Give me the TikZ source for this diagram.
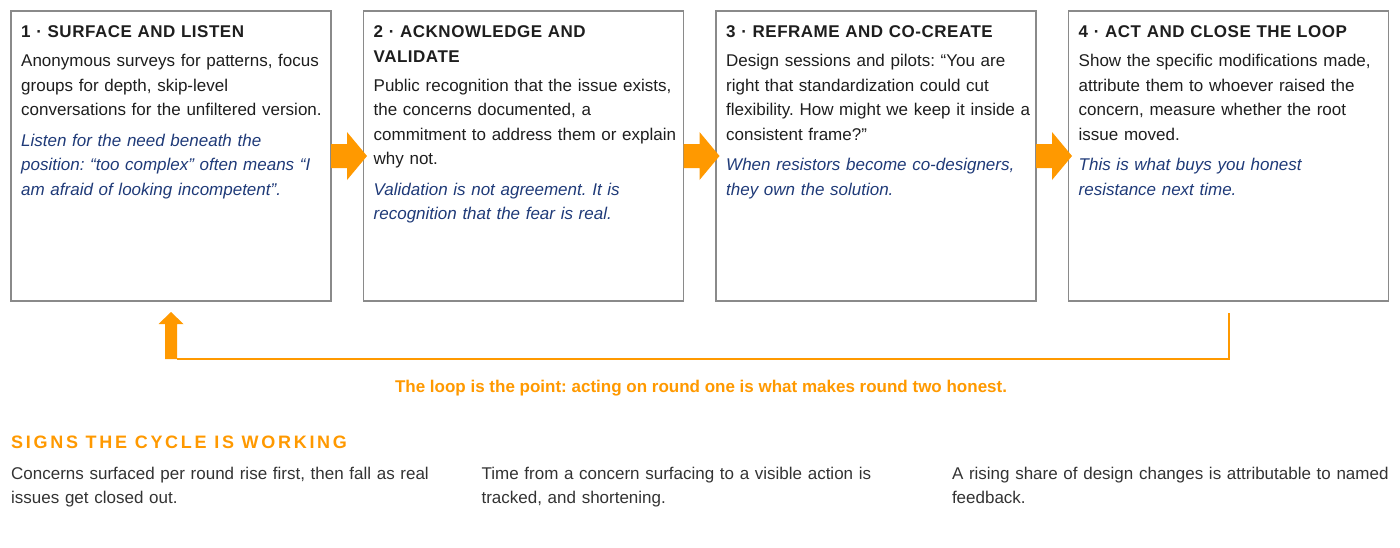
\documentclass[tikz,border=0pt]{standalone}
\usepackage{fontspec}
\setmainfont{Liberation Sans}
\usetikzlibrary{positioning}
\definecolor{accent}{HTML}{FF9900}
\definecolor{notecol}{HTML}{1F3A78}
\definecolor{bodycol}{HTML}{1E1E1E}
\definecolor{signcol}{HTML}{333333}
\definecolor{framecol}{HTML}{8A8A8A}
\frenchspacing
\newcommand\boxtitle[1]{{\bfseries\addfontfeature{LetterSpace=3}#1\par}\vspace{4.5pt}}
\newcommand\boxnote[1]{\par\vspace{6pt}{\color{notecol}\itshape #1\par}}

\tikzset
{
  stepbox/.style={draw=framecol,line width=1.2pt,outer sep=0pt,minimum width=320pt,minimum height=290pt,inner sep=0pt},
  steptext/.style={anchor=north west,inner sep=0pt,text width=320pt,align=left,text=bodycol,font=\fontsize{17}{24.5}\selectfont},
  signtext/.style={anchor=north west,inner sep=0pt,text width=440pt,align=left,text=signcol,font=\fontsize{17}{24}\selectfont},
  loopline/.style={accent,line width=2pt},
  pics/blockarrow/.style n args={4}{code=%body length, body half width, head length, head half width
  {
    \fill[accent] (0,-#2) -- (#1,-#2) -- (#1,-#4) -- (#1+#3,0) -- (#1,#4) -- (#1,#2) -- (0,#2) -- cycle;
  }}
}

\begin{document}
\begin{tikzpicture}[x=1pt,y=-1pt]
\useasboundingbox (0,0) rectangle (1400,547);
% the four steps
\node[stepbox,anchor=north west] (s1) at (11,11) {};
\node[stepbox,right=32.5pt of s1] (s2) {};
\node[stepbox,right=32.5pt of s2] (s3) {};
\node[stepbox,right=32.5pt of s3] (s4) {};

\node[steptext] (t1) at ([shift={(10pt,-14.5pt)}]s1.north west)
{\boxtitle{1 · SURFACE AND LISTEN}
Anonymous surveys for patterns, focus\\groups for depth, skip-level\\conversations for the unfiltered version.
\boxnote{Listen for the need beneath the\\position: “too complex” often means “I\\am afraid of looking incompetent”.}};
\node[steptext] (t2) at ([shift={(10pt,-14.5pt)}]s2.north west)
{\boxtitle{2 · ACKNOWLEDGE AND\\VALIDATE}
Public recognition that the issue exists,\\the concerns documented, a\\commitment to address them or explain\\why not.
\boxnote{Validation is not agreement. It is\\recognition that the fear is real.}};
\node[steptext] (t3) at ([shift={(10pt,-14.5pt)}]s3.north west)
{\boxtitle{3 · REFRAME AND CO-CREATE}
Design sessions and pilots: “You are\\right that standardization could cut\\flexibility. How might we keep it inside a\\consistent frame?”
\boxnote{When resistors become co-designers,\\they own the solution.}};
\node[steptext] (t4) at ([shift={(10pt,-14.5pt)}]s4.north west)
{\boxtitle{4 · ACT AND CLOSE THE LOOP}
Show the specific modifications made,\\attribute them to whoever raised the\\concern, measure whether the root\\issue moved.
\boxnote{This is what buys you honest\\resistance next time.}};

\foreach\a in {s1,s2,s3}
  \pic at (\a.east) {blockarrow={16}{12}{20}{24}};

% back to the start
\coordinate (loopstart) at ([yshift=-12pt]s4.south);
\coordinate (loopbase)  at ([yshift=-58pt]s1.south);
\draw[loopline] (loopstart) |- ([xshift=6pt]loopbase);
\pic[rotate=90] at (loopbase) {blockarrow={35}{6}{12}{12.5}};
\node[text=accent,font=\bfseries\fontsize{17}{20}\selectfont] (loopnote) at (701,388)
  {The loop is the point: acting on round one is what makes round two honest.};

% signs
\node[anchor=base west,inner sep=0pt,text=accent,font=\bfseries\fontsize{18}{21}\selectfont\addfontfeature{LetterSpace=15}] (signs) at (11,448)
  {SIGNS THE CYCLE IS WORKING};
\node[signtext] (c1) at (11,467) {Concerns surfaced per round rise first, then fall as real\\issues get closed out.};
\node[signtext,right=30pt of c1.north east,anchor=north west] (c2) {Time from a concern surfacing to a visible action is\\tracked, and shortening.};
\node[signtext,right=30pt of c2.north east,anchor=north west] (c3) {A rising share of design changes is attributable to named\\feedback.};
\end{tikzpicture}
\end{document}
